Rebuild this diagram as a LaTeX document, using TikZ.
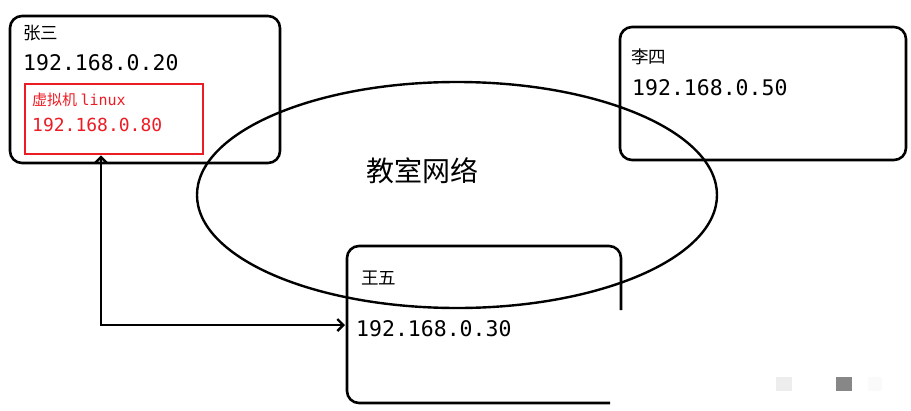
\documentclass[tikz,border=0pt]{standalone}
\usepackage{fontspec}
\usetikzlibrary{arrows.meta}
\newfontfamily\cjk{Noto Sans CJK SC}
\newfontfamily\mono{DejaVu Sans Mono}
\definecolor{vmred}{RGB}{237,28,36}
\tikzset{
  box/.style={draw,line width=2.6pt,rounded corners=12pt},
  lbl/.style={anchor=west,inner sep=0pt},
  ipt/.style={lbl,font=\mono\fontsize{21.5}{23}\selectfont},
  whot/.style={lbl,font=\cjk\fontsize{17.5}{19}\selectfont}}
\begin{document}
\begin{tikzpicture}[x=1pt,y=-1pt]
\useasboundingbox (0,0) rectangle (911,410);
\draw[box] (10,16) rectangle (280,163);
\draw[box] (620,27) rectangle (906,160);
\draw[line width=2.6pt,rounded corners=12pt] (621,310) -- (621,246) -- (347,246) -- (347,403) -- (610,403);
\node[draw=vmred,line width=2.8pt,minimum width=178pt,minimum height=70pt,inner sep=0pt] (vm) at (114,119) {};
\draw[line width=2.4pt] (457,195) ellipse [x radius=260, y radius=113];
\node[whot] (zs) at (23,33) {张三};
\node[ipt] (ip20) at (23,63) {192.168.0.20};
\node[lbl,text=vmred] (vml) at (32,100) {\cjk\fontsize{15}{17}\selectfont 虚拟机\ \mono\fontsize{15}{17}\selectfont linux};
\node[ipt,text=vmred,font=\mono\fontsize{18}{20}\selectfont] (ip80) at (32,125) {192.168.0.80};
\node[whot] (ls) at (631,57) {李四};
\node[ipt] (ip50) at (632,88) {192.168.0.50};
\node[inner sep=0pt,font=\cjk\fontsize{28}{30}\selectfont] (net) at (422,171) {教室网络};
\node[whot] (ww) at (361,278) {王五};
\node[ipt] (ip30) at (356,329) {192.168.0.30};
\coordinate (corner) at (101,325);
\coordinate (wl) at (345,325);
\draw[line width=2.4pt,<->,>={Straight Barb[length=6pt,width=12pt]}] (vm.south -| corner) -- (corner) -- (wl);
\fill[black!7] (776,377) rectangle (792,391);
\fill[black!47] (836,377) rectangle (852,391);
\fill[black!2] (868,377) rectangle (882,391);
\end{tikzpicture}
\end{document}
